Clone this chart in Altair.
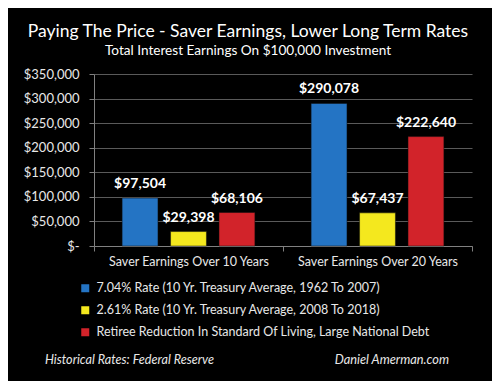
import altair as alt
import pandas as pd

categories = ["Saver Earnings Over 10 Years", "Saver Earnings Over 20 Years"]
series = [
    "7.04% Rate (10 Yr. Treasury Average, 1962 To 2007)",
    "2.61% Rate (10 Yr. Treasury Average, 2008 To 2018)",
    "Retiree Reduction In Standard Of Living, Large National Debt",
]
values_blue = [97504, 290078]
values_yellow = [29398, 67437]
values_red = [68106, 222640]
colors = ["#2474c4", "#f4e81e", "#d2232a"]
y_ticks = [0, 50000, 100000, 150000, 200000, 250000, 300000, 350000]

title_text = "Paying The Price - Saver Earnings, Lower Long Term Rates"
subtitle_text = "Total Interest Earnings On $100,000 Investment"
footer_left = "Historical Rates: Federal Reserve"
footer_right = "Daniel Amerman.com"

rows = []
for s, vals in zip(series, [values_blue, values_yellow, values_red]):
    for c, v in zip(categories, vals):
        rows.append({"category": c, "series": s, "value": v, "label": f"${v:,}"})
df = pd.DataFrame(rows)

FONT = "Lato"
TXT = "#e8e8e8"

x = alt.X(
    "category:N",
    sort=categories,
    scale=alt.Scale(paddingInner=0, paddingOuter=0),
    axis=alt.Axis(
        title=None, labelAngle=0, labelColor=TXT, labelFont=FONT, labelFontSize=12.5,
        domainColor="#808080", tickColor="#808080", tickBand="extent", tickSize=5,
        labelPadding=4, labelLimit=300, grid=False,
    ),
)
xo = alt.XOffset("series:N", sort=series, scale=alt.Scale(paddingInner=0.26, paddingOuter=0.58))
y = alt.Y(
    "value:Q",
    scale=alt.Scale(domain=[0, 350000], nice=False),
    axis=alt.Axis(
        title=None, values=y_ticks,
        labelExpr='datum.value == 0 ? "$-\u00a0\u00a0" : format(datum.value, "$,")',
        labelColor=TXT, labelFont=FONT, labelFontSize=13, labelPadding=10,
        domainColor="#808080", tickColor="#808080", tickSize=5,
        gridColor="#5a5a5a", gridWidth=1,
    ),
)

bars = alt.Chart(df).mark_bar(stroke="#111", strokeWidth=0.5).encode(
    x=x, xOffset=xo, y=y,
    color=alt.Color(
        "series:N", sort=series,
        scale=alt.Scale(domain=series, range=colors),
        legend=alt.Legend(
            orient="none", legendX=-15, legendY=208, title=None, padding=0,
            labelColor=TXT, labelFont=FONT, labelFontSize=12.5, labelLimit=450,
            symbolType="square", symbolSize=64, symbolStrokeWidth=0,
            rowPadding=9, labelOffset=5,
        ),
    ),
)

labels = alt.Chart(df).mark_text(
    baseline="bottom", dy=-7, font=FONT, fontWeight="bold", fontSize=14, color="white"
).encode(x=x, xOffset=xo, y=y, text="label:N")

foot_l = alt.Chart(pd.DataFrame({"t": [footer_left]})).mark_text(
    align="left", baseline="alphabetic", font=FONT, fontStyle="italic", fontSize=12.6, color=TXT
).encode(x=alt.value(-49), y=alt.value(290), text="t:N")

foot_r = alt.Chart(pd.DataFrame({"t": [footer_right]})).mark_text(
    align="right", baseline="alphabetic", font=FONT, fontStyle="italic", fontSize=12.8, color=TXT
).encode(x=alt.value(355), y=alt.value(290), text="t:N")

chart = alt.layer(bars, labels, foot_l, foot_r).properties(
    width=378, height=172,
    padding={"left": 86, "top": 66, "right": 20, "bottom": 135},
    autosize=alt.AutoSizeParams(type="none"),
    background="black",
    title=alt.TitleParams(
        text=title_text, subtitle=subtitle_text, anchor="middle", dx=-35,
        font=FONT, fontSize=17.5, fontWeight="normal", color="white",
        subtitleFont=FONT, subtitleFontSize=13.6, subtitleColor="white",
        subtitlePadding=4, offset=10,
    ),
).configure_view(stroke=None)

chart.save("out.html", embed_options={"renderer": "svg", "actions": False})
